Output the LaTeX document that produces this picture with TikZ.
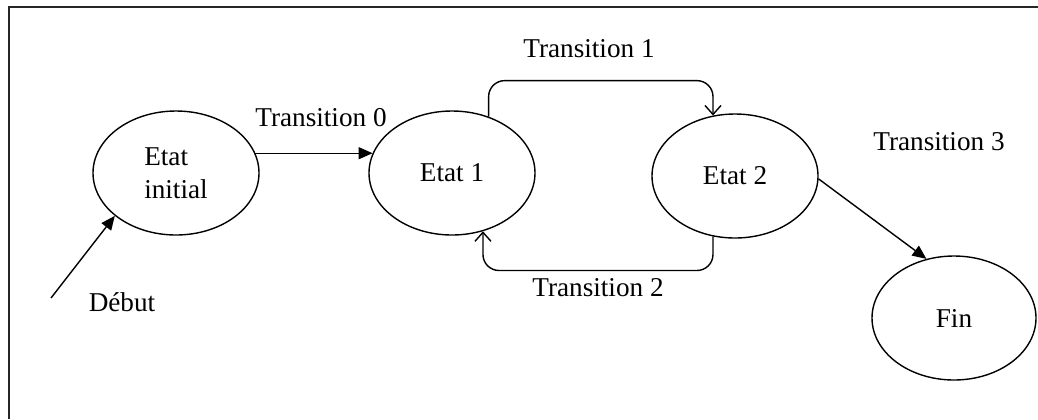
\documentclass[tikz,border=0pt]{standalone}
\usepackage{fontspec}
\setmainfont{Liberation Serif}
\usetikzlibrary{arrows.meta, shapes.geometric}

\begin{document}
\begin{tikzpicture}[
    x=0.5pt, y=-0.5pt,
    every node/.style={font=\fontsize{13.6}{16.5}\selectfont},
    etat/.style={draw, ellipse, line width=0.7pt, align=left, inner sep=1pt, minimum width=83pt, minimum height=62pt},
    lbl/.style={inner sep=0pt},
    plein/.style={line width=0.7pt, -{Triangle[length=7pt, width=6pt]}},
    ouvert/.style={line width=0.7pt, rounded corners=8pt, -{Straight Barb[length=4.5pt, width=8pt]}}
]
\useasboundingbox (0,0) rectangle (1038,419);
% frame (open at right and bottom)
\draw[line width=1pt, black!85] (9,419) |- (1038,7);
% --- States ---
\node[etat] (init) at (176,173) {Etat\\ initial};
\node[etat] (eta1) at (452,173) {Etat 1};
\node[etat] (eta2) at (735,176) {Etat 2};
\node[etat, minimum width=82pt] (fin) at (954,318) {Fin};
\coordinate (deb) at (51,298);
% --- Labels ---
\node[lbl] (ldeb) at (122,302) {Début};
\node[lbl] (tr0) at (321,118) {Transition 0};
\node[lbl] (tr1) at (589,49) {Transition 1};
\node[lbl] (tr2) at (598,288) {Transition 2};
\node[lbl] (tr3) at (939,142) {Transition 3};
% --- Transitions ---
\draw[plein] (deb) -- (init.215);
\draw[plein] (init.14) -- (eta1.166);
\draw[ouvert] (eta1.57) -- ++(0,-36) -| (eta2.110);
\draw[ouvert] (eta2.-110) -- ++(0,34) -| (eta1.-62);
\draw[plein] (eta2.-2) -- (fin.115);
\end{tikzpicture}
\end{document}
